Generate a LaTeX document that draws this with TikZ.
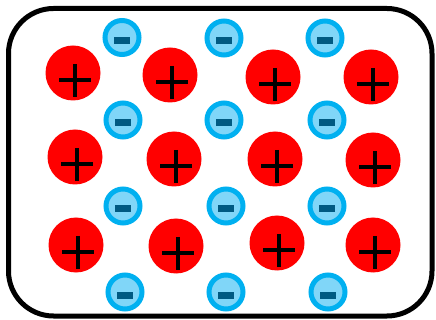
\documentclass[tikz,border=0pt]{standalone}
\definecolor{ionred}{RGB}{255,0,0}
\definecolor{ringblue}{RGB}{0,176,240}
\definecolor{fillblue}{RGB}{128,214,248}
\definecolor{minusblue}{RGB}{0,90,130}
\begin{document}
\begin{tikzpicture}[x=1pt,y=-1pt,
  cation/.style={circle,fill=ionred,minimum size=55pt,inner sep=0pt,draw=none},
  anion/.style={circle,fill=fillblue,draw=ringblue,line width=5pt,minimum size=34pt,inner sep=0pt},
  plusbar/.style={line width=4pt,black},
  minusbar/.style={fill=minusblue,draw=none,minimum width=16pt,minimum height=7pt,inner sep=0pt}]
\useasboundingbox (0,0) rectangle (436,320);
\draw[line width=5pt,rounded corners=45pt] (8.5,8.5) rectangle (432,316);
% cations
\foreach \n/\x/\y in {c1/73/73,c2/170/75,c3/273/77,c4/371/77,
                      c5/75/157,c6/174/159,c7/275/159,c8/373/160,
                      c9/76/245,c10/176/246,c11/277/243,c12/373/245}{
  \node[cation] (\n) at (\x,\y) {};
  \draw[plusbar] ([xshift=-14pt,yshift=-7pt]\n.center) -- ([xshift=18pt,yshift=-7pt]\n.center);
  \draw[plusbar] ([xshift=2pt,yshift=9pt]\n.center) -- ([xshift=2pt,yshift=-24pt]\n.center);
}
% anions
\foreach \n/\x/\y in {a1/122/37.5,a2/224/38,a3/325/38,
                      a4/123/120,a5/224/120,a6/327/120,
                      a7/123/206,a8/226/206,a9/327/206,
                      a10/125/292,a11/226/292,a12/328/292}{
  \node[anion] (\n) at (\x,\y) {};
  \node[minusbar] (\n m) at ([yshift=-3pt]\n.center) {};
}
\end{tikzpicture}
\end{document}
